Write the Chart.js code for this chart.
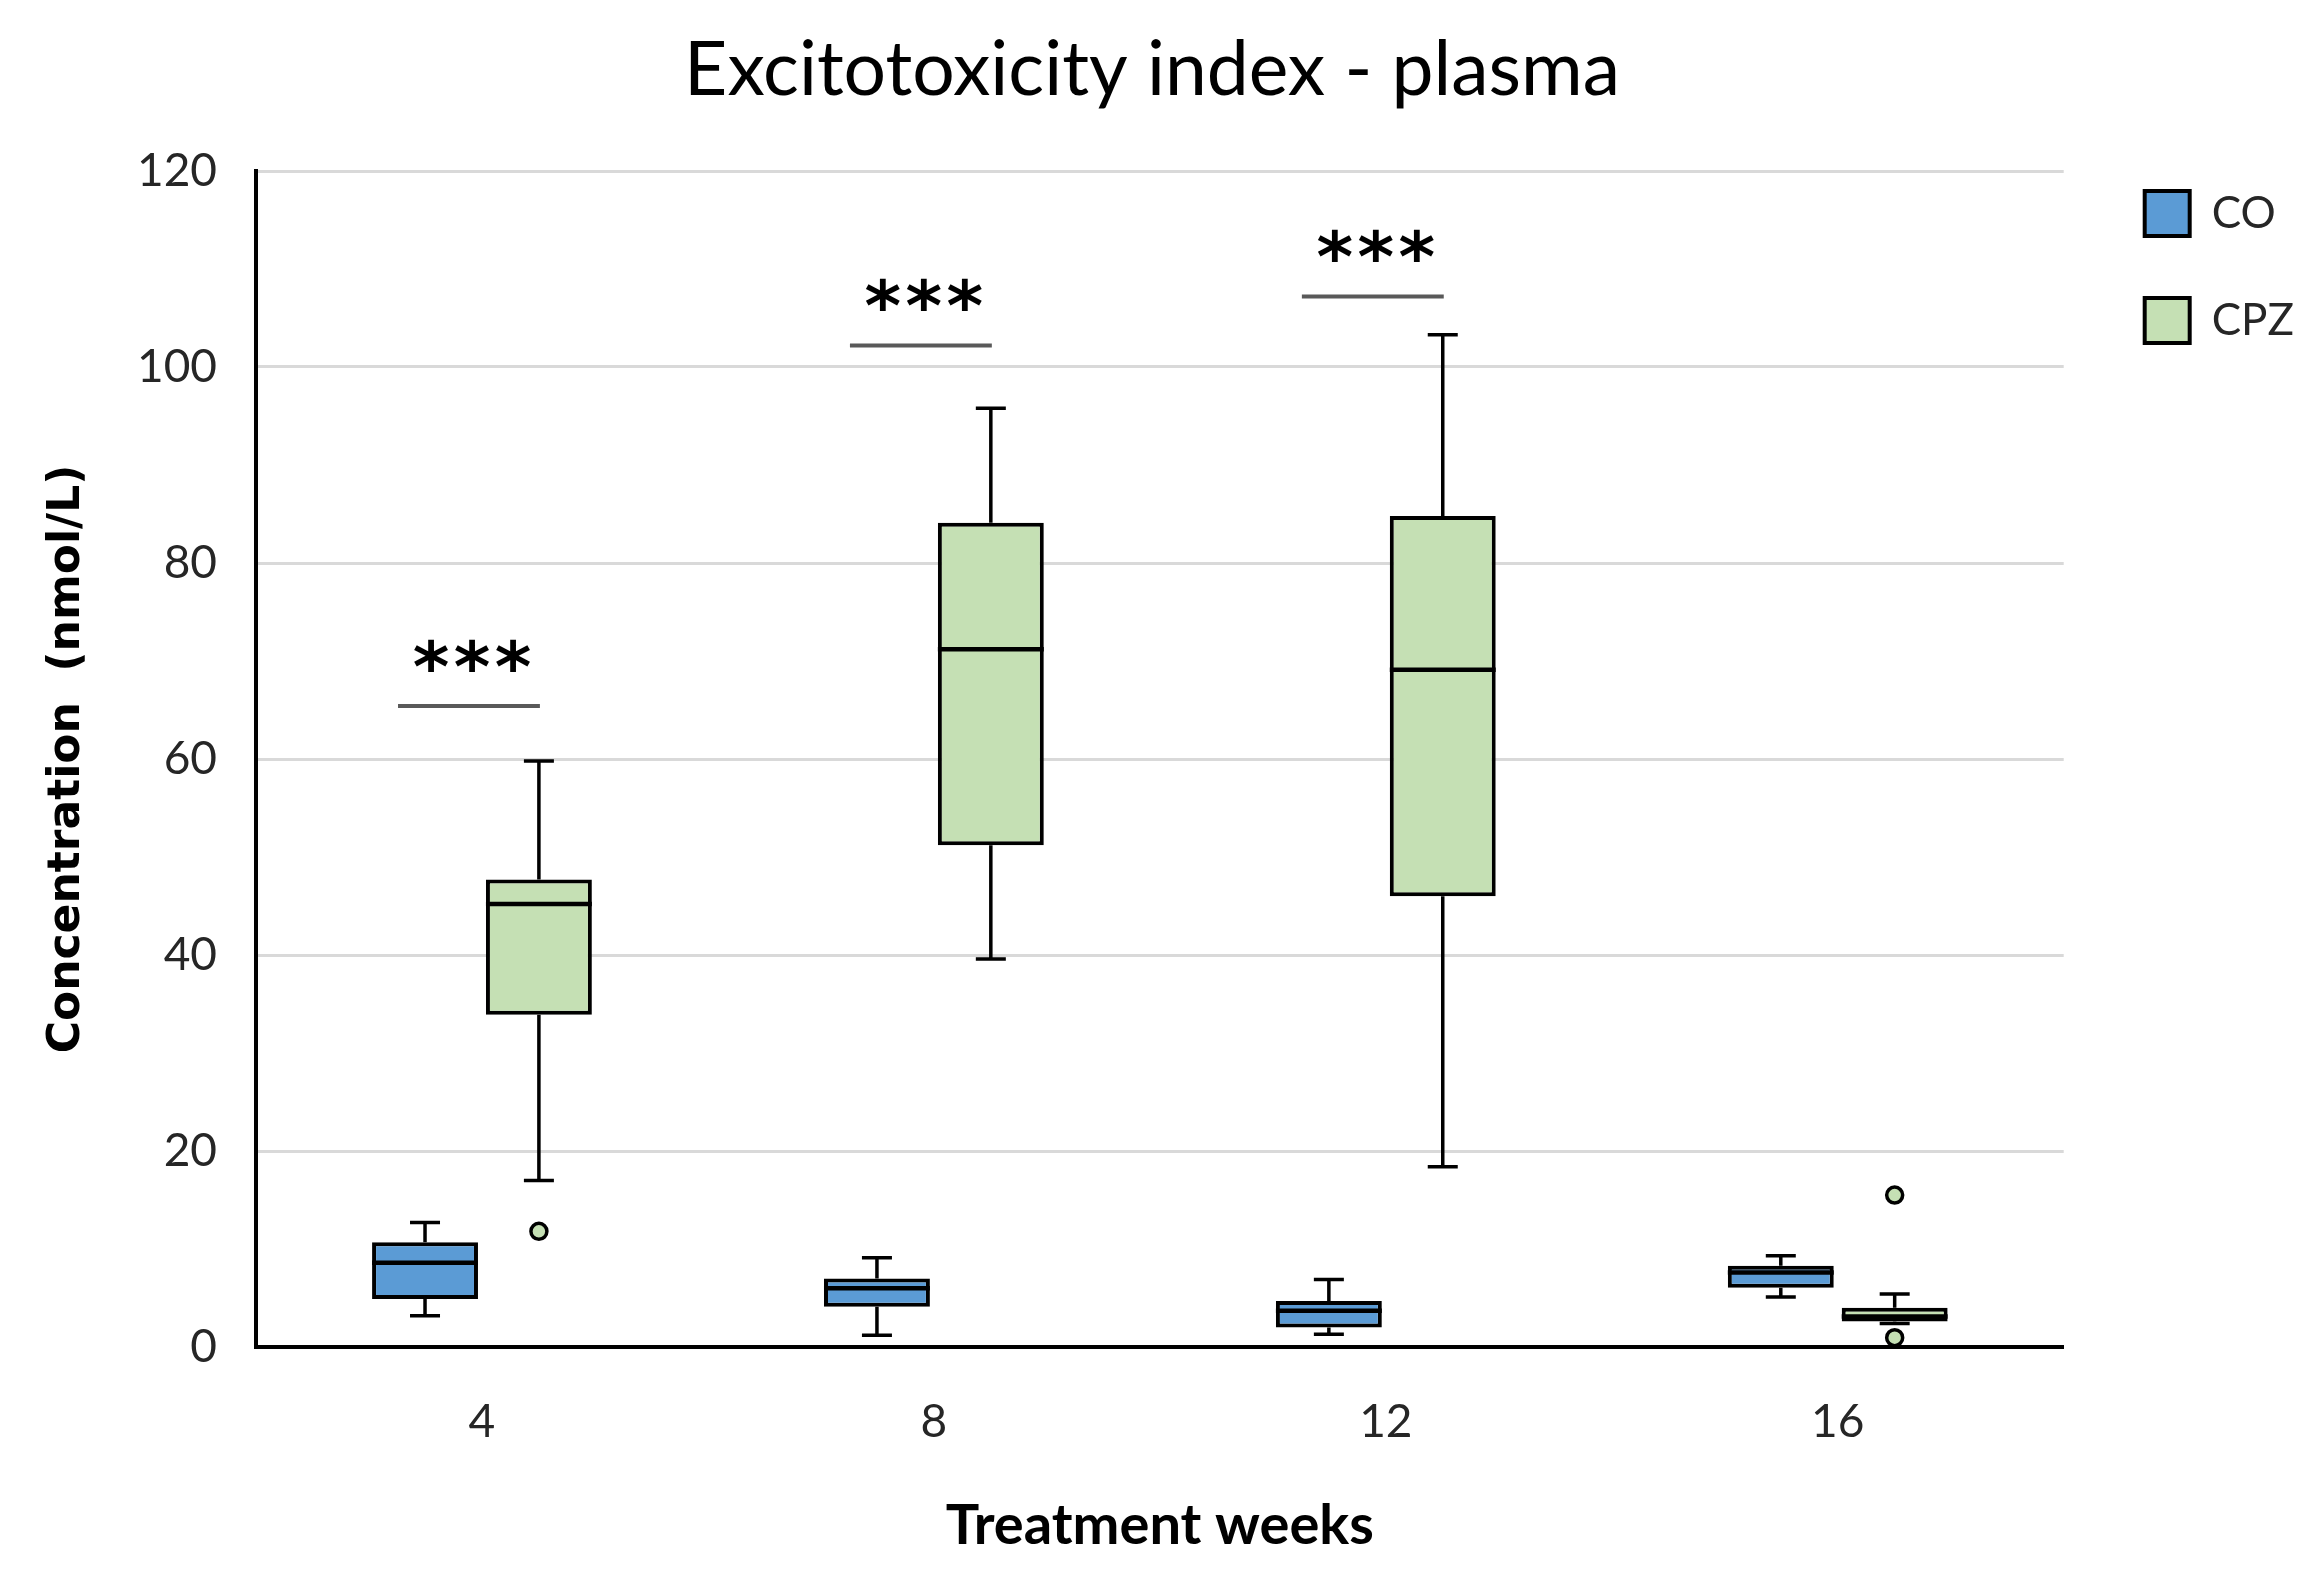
<!DOCTYPE html>
<html>
<head>
<meta charset="utf-8">
<script src="https://cdn.jsdelivr.net/npm/chart.js@4.4.1/dist/chart.umd.min.js"></script>
<style>
  html, body { margin: 0; padding: 0; background: #fff; }
  #grafico { display: block; }
</style>
</head>
<body>
<canvas id="grafico" width="2322" height="1586"></canvas>
<script>
// dados
const semanas = ['4', '8', '12', '16'];

const coMin = [3.2, 1.2, 1.3, 5.1];
const coQ1 = [4.9, 4.1, 2.0, 6.05];
const coMediana = [8.6, 6.0, 3.7, 7.6];
const coQ3 = [10.7, 7.0, 4.7, 8.3];
const coMax = [12.7, 9.1, 6.9, 9.3];
const coOutliers = [[], [], [], []];

const cpzMin = [17.0, 39.6, 18.4, 2.4];
const cpzQ1 = [33.9, 51.2, 46.0, 2.6];
const cpzMediana = [45.2, 71.2, 69.1, 3.1];
const cpzQ3 = [47.7, 84.1, 84.8, 4.0];
const cpzMax = [59.8, 95.8, 103.3, 5.4];
const cpzOutliers = [[11.8], [], [], [15.5, 0.95]];

// linhas de significância (índice da semana, altura, texto)
const sigIndices = [0, 1, 2];
const sigNiveis = [65.4, 102.2, 107.2];
const sigTexto = ['***', '***', '***'];

const yTicks = [0, 20, 40, 60, 80, 100, 120];

const grupos = [
    { min: coMin, med: coMediana, max: coMax, out: coOutliers },
    { min: cpzMin, med: cpzMediana, max: cpzMax, out: cpzOutliers }
];

// whiskers, medianas e outliers por cima das caixas
const extrasBoxplot = {
    id: 'extrasBoxplot',
    afterDatasetsDraw(chart) {
        const ctx = chart.ctx;
        const y = chart.scales.y;
        ctx.save();
        grupos.forEach((g, di) => {
            const meta = chart.getDatasetMeta(di);
            const ds = chart.data.datasets[di];
            meta.data.forEach((bar, i) => {
                const x = bar.x;
                const meia = bar.width / 2;
                const [q1, q3] = ds.data[i];
                const pMin = y.getPixelForValue(g.min[i]);
                const pMax = y.getPixelForValue(g.max[i]);
                const pQ1 = y.getPixelForValue(q1);
                const pQ3 = y.getPixelForValue(q3);
                const pMed = y.getPixelForValue(g.med[i]);

                ctx.strokeStyle = '#000';
                ctx.lineWidth = 3.5;
                ctx.beginPath();
                ctx.moveTo(x, pQ3); ctx.lineTo(x, pMax);
                ctx.moveTo(x - 15, pMax); ctx.lineTo(x + 15, pMax);
                ctx.moveTo(x, pQ1); ctx.lineTo(x, pMin);
                ctx.moveTo(x - 15, pMin); ctx.lineTo(x + 15, pMin);
                ctx.stroke();

                ctx.lineWidth = 4.5;
                ctx.beginPath();
                ctx.moveTo(x - meia, pMed); ctx.lineTo(x + meia, pMed);
                ctx.stroke();

                g.out[i].forEach(v => {
                    ctx.beginPath();
                    ctx.arc(x, y.getPixelForValue(v), 8, 0, Math.PI * 2);
                    ctx.fillStyle = '#C5E0B4';
                    ctx.fill();
                    ctx.lineWidth = 3.5;
                    ctx.stroke();
                });
            });
        });
        ctx.restore();
    },
    afterDraw(chart) {
        const ctx = chart.ctx;
        const y = chart.scales.y;
        const metaCo = chart.getDatasetMeta(0);
        const metaCpz = chart.getDatasetMeta(1);
        ctx.save();
        sigIndices.forEach((idx, k) => {
            const x1 = metaCo.data[idx].x - 27;
            const x2 = metaCpz.data[idx].x + 1;
            const py = y.getPixelForValue(sigNiveis[k]);
            ctx.strokeStyle = '#595959';
            ctx.lineWidth = 4;
            ctx.beginPath();
            ctx.moveTo(x1, py); ctx.lineTo(x2, py);
            ctx.stroke();

            ctx.fillStyle = '#000';
            ctx.font = 'bold 70px "DejaVu Sans"';
            ctx.textAlign = 'center';
            ctx.textBaseline = 'alphabetic';
            const centro = (x1 + x2) / 2 + 3;
            const passo = 41;
            const n = sigTexto[k].length;
            for (let j = 0; j < n; j++) {
                const cx = centro + (j - (n - 1) / 2) * passo;
                ctx.fillText(sigTexto[k][j], cx, py - 54 + 39);
            }
        });
        ctx.restore();
    }
};

new Chart(document.getElementById('grafico'), {
    type: 'bar',
    data: {
        labels: semanas,
        datasets: [
            {
                label: 'CO',
                data: coQ1.map((v, i) => [v, coQ3[i]]),
                backgroundColor: '#5B9BD5',
                borderColor: '#000',
                borderWidth: 4,
                borderSkipped: false,
                categoryPercentage: 0.504,
                barPercentage: 0.93
            },
            {
                label: 'CPZ',
                data: cpzQ1.map((v, i) => [v, cpzQ3[i]]),
                backgroundColor: '#C5E0B4',
                borderColor: '#000',
                borderWidth: 4,
                borderSkipped: false,
                categoryPercentage: 0.504,
                barPercentage: 0.93
            }
        ]
    },
    options: {
        responsive: false,
        animation: false,
        devicePixelRatio: 1,
        layout: { padding: { left: 0, top: 0, bottom: 0, right: 18 } },
        plugins: {
            title: {
                display: true,
                text: 'Excitotoxicity index - plasma',
                color: '#000',
                font: { family: 'Lato', size: 75, weight: 'normal', lineHeight: 1.2 },
                padding: { top: 26, bottom: 55 }
            },
            legend: {
                position: 'right',
                align: 'start',
                fullSize: true,
                title: { display: true, text: '', font: { size: 10, lineHeight: 1 }, padding: { top: 119, bottom: 0 } },
                labels: {
                    boxWidth: 45,
                    boxHeight: 45,
                    padding: 62,
                    color: '#262626',
                    font: { family: 'Lato', size: 44 }
                }
            },
            tooltip: { enabled: false }
        },
        scales: {
            x: {
                grid: { display: false, drawTicks: false },
                border: { display: true, color: '#000', width: 4 },
                ticks: { color: '#262626', font: { family: 'Lato', size: 46 }, padding: 48 },
                title: {
                    display: true,
                    text: 'Treatment weeks',
                    color: '#000',
                    font: { family: 'Lato', size: 56, weight: 'bold', lineHeight: 1.2 },
                    padding: { top: 0, bottom: 26 }
                },
                afterFit(scale) { scale.height = 239; }
            },
            y: {
                min: 0,
                max: 120,
                grid: { color: '#d9d9d9', lineWidth: 3, drawTicks: false },
                border: { display: true, color: '#000', width: 4 },
                afterBuildTicks(scale) { scale.ticks = yTicks.map(v => ({ value: v })); },
                ticks: { color: '#262626', font: { family: 'Lato', size: 46 }, padding: 39 },
                title: {
                    display: true,
                    text: 'Concentration  (nmol/L)',
                    color: '#000',
                    font: { family: 'DejaVu Sans', size: 44, weight: 'bold', lineHeight: 1.2 },
                    padding: { top: 41, bottom: 0 }
                },
                afterFit(scale) { scale.width = 256; }
            },
            // eixo vazio só para afastar a legenda da área do gráfico
            espaco: {
                type: 'linear',
                position: 'right',
                display: true,
                grid: { display: false, drawTicks: false },
                border: { display: false },
                ticks: { display: false },
                afterFit(scale) { scale.width = 19; }
            }
        }
    },
    plugins: [extrasBoxplot]
});
</script>
</body>
</html>
